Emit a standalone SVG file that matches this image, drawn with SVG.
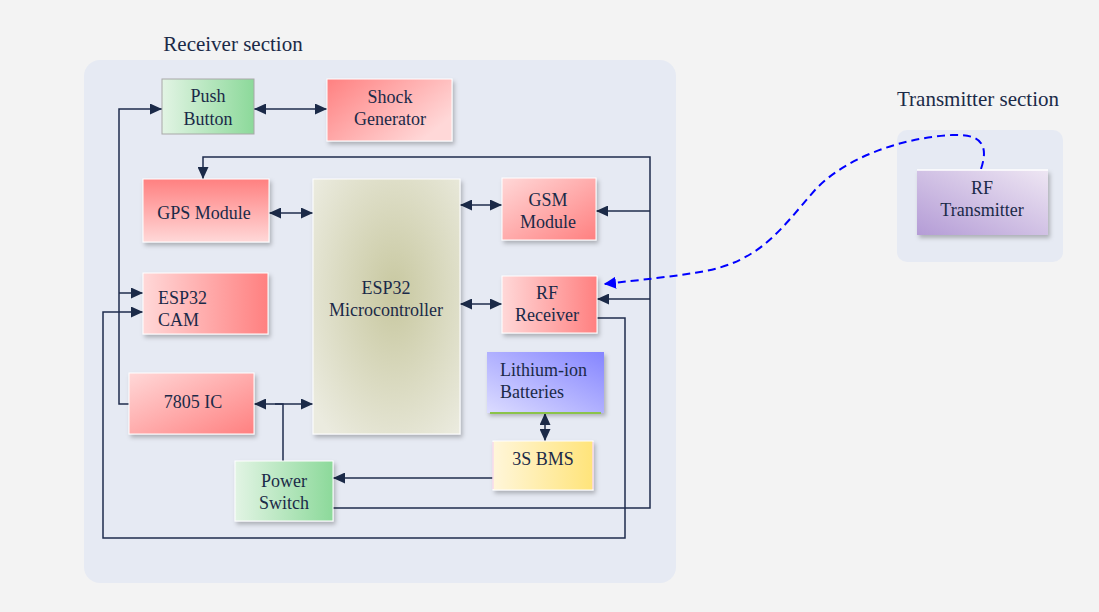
<svg xmlns="http://www.w3.org/2000/svg" width="1099" height="612" viewBox="0 0 1099 612">
<style>
text{font-family:"Liberation Serif","Times New Roman","DejaVu Serif",serif;fill:#1b2a48}
.t{font-size:18px;text-anchor:middle}
.l{text-anchor:start}
.h{font-size:21px;text-anchor:middle}
.c{fill:none;stroke:#1f2d4d;stroke-width:1.5}
.n{filter:url(#sh)}
</style>
<defs>
<filter id="sh" x="-20%" y="-20%" width="150%" height="150%"><feDropShadow dx="2" dy="3" stdDeviation="2" flood-color="#000" flood-opacity="0.25"/></filter>
<marker id="a" viewBox="0 0 10 10" refX="10" refY="5" markerWidth="12" markerHeight="11" markerUnits="userSpaceOnUse" orient="auto-start-reverse" preserveAspectRatio="none"><path d="M0,0 L10,5 L0,10 z" fill="#1b2a48"/></marker>
<marker id="b" viewBox="0 0 10 10" refX="10" refY="5" markerWidth="12" markerHeight="12" markerUnits="userSpaceOnUse" orient="auto"><path d="M0,0 L10,5 L0,10 z" fill="#0000ff"/></marker>
<linearGradient id="gG" x1="0" y1="0" x2="1" y2="0"><stop offset="0" stop-color="#e2f4e4"/><stop offset="1" stop-color="#8cd99a"/></linearGradient>
<linearGradient id="rLR" x1="0" y1="0" x2="1" y2="0"><stop offset="0" stop-color="#ffd8d8"/><stop offset="1" stop-color="#ff8080"/></linearGradient>
<linearGradient id="rTB" x1="0" y1="0" x2="0" y2="1"><stop offset="0" stop-color="#ff8080"/><stop offset="1" stop-color="#ffd8d8"/></linearGradient>
<linearGradient id="rTL" x1="0" y1="0" x2="1" y2="1"><stop offset="0" stop-color="#ffd8d8"/><stop offset="1" stop-color="#ff8080"/></linearGradient>
<linearGradient id="rSG" x1="0" y1="0" x2="1" y2="0.6"><stop offset="0" stop-color="#ff8080"/><stop offset="1" stop-color="#ffd8d8"/></linearGradient>
<radialGradient id="mc" cx="0.55" cy="0.45" r="0.7"><stop offset="0" stop-color="#c8c8a0"/><stop offset="1" stop-color="#ebebdf"/></radialGradient>
<linearGradient id="bl" x1="0" y1="1" x2="1" y2="0"><stop offset="0" stop-color="#dcdcff"/><stop offset="1" stop-color="#8585ff"/></linearGradient>
<linearGradient id="ye" x1="0" y1="0" x2="1" y2="0"><stop offset="0" stop-color="#fff6da"/><stop offset="1" stop-color="#ffe47a"/></linearGradient>
<linearGradient id="pu" x1="0" y1="1" x2="1" y2="0"><stop offset="0" stop-color="#b49cd6"/><stop offset="1" stop-color="#eee6f3"/></linearGradient>
</defs>
<rect width="1099" height="612" fill="#f3f3f3"/>
<rect x="84" y="60" width="592" height="523" rx="16" fill="#e6eaf3"/>
<rect x="897" y="130" width="166" height="132" rx="10" fill="#e6eaf3"/>
<text class="h" x="233" y="51">Receiver section</text>
<text class="h" x="978" y="106">Transmitter section</text>

<g id="connectors">
<path class="c" d="M254,109 H327" marker-start="url(#a)" marker-end="url(#a)"/>
<path class="c" d="M129,404 H119 V109 H162" marker-end="url(#a)"/>
<path class="c" d="M119,293 H143" marker-end="url(#a)"/>
<path class="c" d="M597,318 H625 V538 H103 V312 H143" marker-end="url(#a)"/>
<path class="c" d="M333,508 H650 V157 H203 V179" marker-end="url(#a)"/>
<path class="c" d="M650,211 H596" marker-end="url(#a)"/>
<path class="c" d="M650,299 H597" marker-end="url(#a)"/>
<path class="c" d="M493,478 H333" marker-end="url(#a)"/>
<path class="c" d="M269,213 H313" marker-start="url(#a)" marker-end="url(#a)"/>
<path class="c" d="M460,205 H502" marker-start="url(#a)" marker-end="url(#a)"/>
<path class="c" d="M460,304 H502" marker-start="url(#a)" marker-end="url(#a)"/>
<path class="c" d="M545,413 V441" marker-start="url(#a)" marker-end="url(#a)"/>
<path class="c" d="M254,404 H313" marker-start="url(#a)" marker-end="url(#a)"/>
<path class="c" d="M283,461 V404 H275"/>
<path d="M981,169 C990,142 978,134 952,135 C900,138 845,158 815,190 C780,230 760,262 700,272 C670,277 640,280 604,284" fill="none" stroke="#0000ff" stroke-width="2" stroke-dasharray="8,5" marker-end="url(#b)"/>
</g>

<g id="push-button"><rect x="162" y="79" width="92" height="55" fill="url(#gG)" stroke="#a8a8a8" stroke-width="1"/><text class="t" x="208" y="102">Push</text><text class="t" x="208" y="125">Button</text></g>
<g id="shock-generator"><rect class="n" x="327" y="79" width="125" height="62" fill="url(#rSG)" stroke="#fff" stroke-width="1"/><text class="t" x="390" y="103">Shock</text><text class="t" x="390" y="125">Generator</text></g>
<g id="gps-module"><rect class="n" x="143" y="179" width="126" height="63" fill="url(#rTB)" stroke="#fff" stroke-width="1"/><text class="t" x="204" y="219">GPS Module</text></g>
<g id="esp32"><rect class="n" x="313" y="179" width="147" height="255" fill="url(#mc)" stroke="#fff" stroke-width="1"/><text class="t" x="386" y="294">ESP32</text><text class="t" x="386" y="316">Microcontroller</text></g>
<g id="gsm-module"><rect class="n" x="502" y="178" width="94" height="62" fill="url(#rTL)" stroke="#fff" stroke-width="1"/><text class="t" x="548" y="206">GSM</text><text class="t" x="548" y="228">Module</text></g>
<g id="rf-receiver"><rect class="n" x="502" y="276" width="95" height="57" fill="url(#rLR)" stroke="#fff" stroke-width="1"/><text class="t" x="547" y="299">RF</text><text class="t" x="547" y="321">Receiver</text></g>
<g id="batteries"><rect class="n" x="487" y="352" width="117" height="61" fill="url(#bl)"/><line x1="490" y1="413" x2="601" y2="413" stroke="#8bc34a" stroke-width="2"/><text class="t l" x="500" y="376">Lithium-ion</text><text class="t l" x="500" y="398">Batteries</text></g>
<g id="bms"><rect class="n" x="493" y="441" width="100" height="49" fill="url(#ye)" stroke="#fff" stroke-width="1"/><line x1="493" y1="442" x2="493" y2="489" stroke="#f4c8e0" stroke-width="1"/><line x1="593" y1="442" x2="593" y2="489" stroke="#f4c8e0" stroke-width="1"/><text class="t" x="543" y="465">3S BMS</text></g>
<g id="esp32-cam"><rect class="n" x="143" y="273" width="125" height="61" fill="url(#rLR)" stroke="#fff" stroke-width="1"/><text class="t l" x="158" y="304">ESP32</text><text class="t l" x="158" y="326">CAM</text></g>
<g id="ic7805"><rect class="n" x="129" y="373" width="125" height="61" fill="url(#rTL)" stroke="#fff" stroke-width="1"/><text class="t" x="193" y="408">7805 IC</text></g>
<g id="power-switch"><rect class="n" x="235" y="461" width="98" height="60" fill="url(#gG)" stroke="#fff" stroke-width="1"/><text class="t" x="284" y="487">Power</text><text class="t" x="284" y="509">Switch</text></g>
<g id="rf-transmitter"><rect class="n" x="917" y="170" width="131" height="65" fill="url(#pu)"/><line x1="917" y1="170" x2="1048" y2="170" stroke="#fff" stroke-width="1.5"/><text class="t" x="982" y="194">RF</text><text class="t" x="982" y="216">Transmitter</text></g>
</svg>
